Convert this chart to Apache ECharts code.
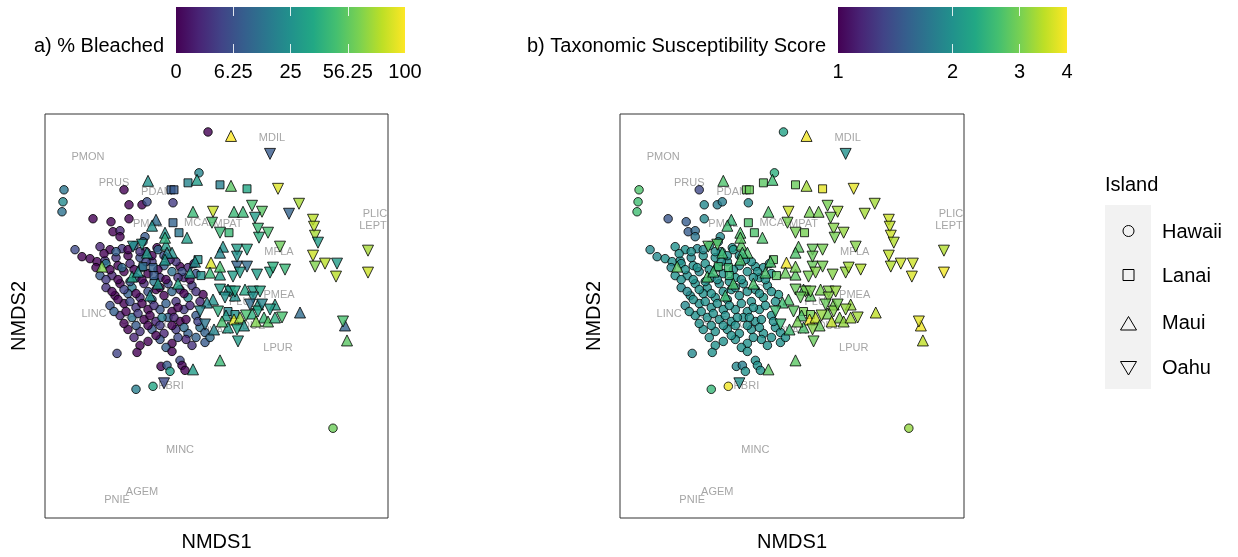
<!DOCTYPE html>
<html><head><meta charset="utf-8">
<script src="https://cdn.jsdelivr.net/npm/echarts@6.0.0/dist/echarts.min.js"></script>
<style>html,body{margin:0;padding:0;background:#fff}#c{width:1238px;height:557px}</style>
</head><body><div id="c"></div>
<script>
// Each site: [NMDS1, NMDS2, % bleached, taxonomic susceptibility score]
const hawaii = [
[-0.07,1.41,0,2.2],[-0.16,1.00,20,2.4],[-1.51,0.83,15,2.7],[-1.52,0.71,22,2.6],[-1.53,0.61,14,2.6],
[-0.91,0.83,0,1.35],[-0.86,0.68,0,1.9],[-0.73,0.68,0,1.8],[-0.68,0.71,6,1.8],[-0.42,0.70,3,1.9],
[-1.22,0.54,0,1.45],[-1.04,0.51,0,1.5],[-0.86,0.54,0,1.9],[-1.02,0.41,0,1.5],[-0.95,0.42,1,1.6],
[-0.95,0.36,0,1.7],[-0.70,0.36,8,1.9],[-0.72,0.31,10,2.0],[-0.58,0.25,0,2.0],[-0.35,0.06,0,2.0],
[-0.12,-0.22,0,2.1],[-1.40,0.23,5,1.9],[-1.33,0.16,0,1.9],[-1.25,0.14,0,2.0],[-1.18,0.11,0,2.0],
[-1.10,0.12,2,2.0],
[-1.15,0.26,1,2.0],[-1.05,0.23,0,2.0],[-0.93,0.24,3,1.9],[-0.81,0.27,8,2.0],[-0.69,0.21,1,2.0],
[-0.57,0.23,12,2.1],[-0.87,0.17,0,2.0],[-0.75,0.15,6,2.0],[-0.99,0.15,2,1.9],
[-1.19,0.05,0,1.9],[-1.09,0.09,15,2.0],[-0.97,0.07,0,2.0],[-0.85,0.09,1,2.0],[-0.73,0.05,20,2.1],
[-0.63,0.11,3,2.0],[-0.51,0.07,9,2.0],[-0.39,0.11,2,2.0],[-0.27,0.05,1,2.0],
[-1.15,-0.03,8,2.0],[-1.03,-0.03,1,2.0],[-0.91,0.01,0,1.9],[-0.79,-0.05,10,2.0],[-0.67,-0.01,0,2.0],
[-0.55,-0.05,2,2.1],[-0.43,0.01,14,2.0],[-0.31,-0.05,1,2.0],[-0.19,-0.01,7,2.0],[-0.95,-0.11,0,2.0],
[-1.09,-0.15,2,1.9],[-0.83,-0.15,18,2.0],[-0.71,-0.11,1,2.0],[-0.59,-0.17,0,2.0],[-0.47,-0.11,5,2.0],
[-0.35,-0.17,1,2.0],[-0.23,-0.13,3,2.0],[-1.00,-0.23,0,2.0],[-0.87,-0.21,9,2.0],
[-0.75,-0.25,1,2.0],[-0.63,-0.27,12,2.0],[-0.51,-0.23,0,2.0],[-0.39,-0.29,2,2.0],[-0.27,-0.25,22,2.1],
[-0.15,-0.29,1,2.0],[-1.05,-0.33,6,1.9],[-0.91,-0.31,0,2.0],[-0.79,-0.35,2,2.0],[-0.67,-0.37,0,2.0],
[-0.55,-0.37,7,2.0],[-0.43,-0.39,0,2.0],[-0.31,-0.37,3,2.0],[-0.19,-0.43,8,2.0],[-0.95,-0.43,1,2.0],
[-0.83,-0.45,14,2.0],[-0.71,-0.47,0,2.0],[-0.59,-0.49,1,2.0],[-0.47,-0.45,10,2.0],[-0.35,-0.49,0,2.0],
[-0.87,-0.57,0,2.0],[-0.75,-0.59,2,2.0],[-0.63,-0.57,8,2.0],[-0.51,-0.61,1,2.0],[-0.39,-0.57,3,2.0],
[-0.27,-0.61,9,2.0],[-0.15,-0.55,14,2.0],[-0.67,-0.69,0,2.0],[-0.55,-0.67,7,2.0],[-0.43,-0.71,0,2.0],
[-0.29,-0.67,1,2.0],[-0.19,-0.65,10,2.0],
[-1.11,0.19,0,2.0],[-0.99,0.21,9,2.0],[-0.87,0.23,0,1.9],[-0.75,0.21,2,2.0],[-0.63,0.17,0,2.0],
[-0.51,0.17,5,2.0],[-1.05,0.03,0,2.0],[-0.93,0.05,12,2.0],[-0.81,0.03,0,2.0],[-0.69,0.11,4,2.0],
[-0.57,0.03,0,2.0],[-0.45,0.13,1,2.0],[-0.33,0.01,6,2.0],[-0.21,0.09,0,2.0],[-1.09,-0.07,3,2.0],
[-0.97,-0.07,0,2.0],[-0.85,-0.09,7,2.0],[-0.73,-0.07,0,2.0],[-0.61,-0.09,16,2.0],[-0.49,-0.07,0,2.0],
[-0.37,-0.05,2,2.0],[-0.25,-0.07,0,2.0],[-1.03,-0.19,0,1.9],[-0.91,-0.17,4,2.0],[-0.79,-0.21,0,2.0],
[-0.67,-0.19,6,2.0],[-0.55,-0.15,0,2.0],[-0.43,-0.19,11,2.0],[-0.31,-0.21,0,2.0],[-0.19,-0.19,2,2.0],
[-0.97,-0.27,0,2.0],[-0.85,-0.29,5,2.0],[-0.73,-0.31,0,2.0],[-0.61,-0.33,2,2.0],[-0.49,-0.31,9,2.0],
[-0.37,-0.35,0,2.0],[-0.25,-0.33,1,2.0],[-1.01,-0.39,9,2.0],[-0.89,-0.39,0,2.0],[-0.77,-0.41,3,2.0],
[-0.65,-0.43,0,2.0],[-0.53,-0.45,18,2.0],[-0.41,-0.45,1,2.0],[-0.29,-0.47,0,2.0],[-0.17,-0.49,4,2.0],
[-0.91,-0.51,0,2.0],[-0.79,-0.53,8,2.0],[-0.67,-0.53,0,2.0],[-0.55,-0.53,3,2.0],[-0.43,-0.53,0,2.0],
[-0.31,-0.55,12,2.0],[-0.81,-0.65,1,2.0],[-0.59,-0.63,0,2.0],[-0.37,-0.65,5,2.0],[-0.23,-0.73,2,2.0],
[-0.75,-0.73,0,2.0],[-0.49,-0.75,9,2.0],
[-0.10,-0.60,10,2.0],[-0.10,-0.70,8,2.0],[-0.05,-0.65,12,2.0],
[-0.98,-0.81,4,1.9],[-0.78,-0.80,0,2.0],[-0.43,-0.79,0,2.0],[-0.54,-0.94,0,1.9],[-0.48,-0.93,8,1.8],
[-0.45,-0.99,30,2.0],[-0.35,-0.88,5,2.0],[-0.33,-0.93,0,2.0],[-0.30,-0.98,0,2.0],
[-0.79,-1.17,18,2.5],[-0.62,-1.14,35,3.9],[1.18,-1.56,60,3.2]
];
const lanai = [
[-0.44,0.83,8,2.9],[-0.41,0.83,8,2.9],[-0.27,0.90,20,2.8],[0.05,0.88,18,2.9],[0.32,0.84,35,3.8],
[-0.42,0.50,10,2.7],[0.14,0.40,45,3.0],[-0.17,0.13,25,2.8],[-0.14,-0.03,25,2.8],[-0.72,0.06,12,2.6],
[-0.62,0.05,10,2.6],[-0.61,-0.03,8,2.5],[-0.36,0.40,15,2.7],[0.13,-0.39,20,3.0],[0.20,-0.42,25,3.0]
];
const maui = [
[0.16,1.37,100,3.9],[-0.18,0.93,30,2.6],[-0.67,0.92,25,2.7],[0.16,0.87,55,3.3],[-0.59,0.53,12,2.5],
[-0.63,0.47,25,2.6],[-0.22,0.61,45,2.7],[0.19,0.61,45,3.0],[0.28,0.61,45,3.0],[-0.50,0.40,25,2.7],
[-0.49,0.28,30,2.8],[-0.43,0.20,25,2.7],[-0.48,0.20,20,2.6],[-0.68,0.20,30,2.6],[-0.28,0.35,30,2.7],
[0.08,0.26,25,2.8],[0.05,0.20,20,2.7],[-0.20,0.11,25,2.7],[-0.04,0.10,90,3.9],[-0.05,0.00,45,2.9],
[0.05,-0.02,30,2.8],[-0.25,0.00,30,2.7],[-0.02,-0.27,25,2.7],[-0.08,-0.30,20,2.6],[0.60,-0.32,30,3.2],
[0.85,-0.40,12,3.5],[1.30,-0.53,10,3.9],[1.32,-0.68,55,3.5],[-0.22,-0.97,30,2.8],[0.05,-0.88,45,2.8],
[-0.50,0.35,40,2.8],[-0.83,-0.04,35,2.7],[-0.77,0.01,25,2.6],[-0.57,-0.11,30,2.7],[-0.65,-0.23,25,2.6],
[-0.50,0.13,28,2.7],[-0.37,-0.11,35,2.7],[0.11,-0.43,30,2.7],[0.19,-0.47,90,3.9],[0.25,-0.45,70,3.5],
[0.37,-0.41,40,3.0],[0.49,-0.45,45,3.1],[0.13,-0.55,30,2.7],[0.07,-0.49,50,3.0],[-0.01,-0.57,20,2.6],
[0.29,-0.53,25,2.9],[0.53,-0.49,55,3.2],[0.60,-0.45,40,3.3],[0.41,-0.49,65,3.5],[0.43,-0.32,30,3.0],
[0.20,-0.23,25,2.8],[0.30,-0.17,35,3.0],[0.13,-0.17,20,2.7],[0.05,0.06,50,3.0],[-1.13,0.06,65,2.8]
];
const oahu = [
[0.55,1.19,8,2.0],[0.63,0.84,90,3.8],[0.84,0.69,75,3.3],[0.74,0.59,10,3.3],[-0.02,0.61,85,3.6],
[0.37,0.67,50,3.0],[0.47,0.61,55,3.3],[0.40,0.55,30,3.0],[-0.03,0.50,50,3.0],[0.05,0.40,45,3.0],
[0.43,0.44,45,3.1],[0.53,0.40,50,3.2],[0.44,0.35,40,3.0],[0.98,0.53,80,3.6],[0.99,0.46,80,3.5],
[1.00,0.37,75,3.6],[1.03,0.30,30,3.4],[0.98,0.17,85,3.5],[1.00,0.06,65,3.4],[1.10,0.09,80,3.6],
[1.22,0.09,30,3.6],[1.21,-0.04,80,3.7],[1.53,0.22,75,3.4],[1.53,0.00,85,3.9],[0.65,0.26,60,3.1],
[-0.82,0.26,25,2.8],[-0.73,0.28,28,2.8],[0.22,0.23,30,2.9],[0.32,0.23,35,3.0],[0.22,0.06,10,2.9],
[0.32,0.06,12,3.0],[0.18,-0.04,30,3.0],[0.25,0.00,30,3.1],[0.42,-0.02,30,3.1],[0.55,0.00,35,3.2],
[0.58,0.05,40,3.3],[0.70,0.03,45,3.4],[0.05,-0.17,30,2.9],[0.15,-0.19,30,3.0],[0.10,-0.25,25,2.9],
[0.20,-0.19,35,3.0],[0.38,-0.19,30,3.1],[0.45,-0.19,35,3.2],[0.38,-0.25,25,3.1],[-0.51,-1.11,5,2.0],
[0.23,-0.69,30,2.9],[1.28,-0.49,50,3.8],[0.67,-0.45,50,3.3],[0.03,-0.39,40,2.8],[0.31,-0.43,50,3.2],
[0.43,-0.39,35,3.1],[0.55,-0.37,30,3.2],[0.35,-0.32,12,2.9],[0.47,-0.32,20,3.0],[-0.10,-0.52,15,2.5],
[0.22,-0.57,35,3.1],[-0.15,-0.39,20,2.6],[0.22,0.16,25,2.9]
];
const species  = ['PMON','PRUS','PDAM','PMAL','MCAP','MPAT','MDIL','PLIC','LEPT','MFLA','PMEA','FSCU','LINC','COCE','PLOB','PVAR','PDUE','PLUT','LPUR','PBRI','MINC','AGEM','PNIE'];
const speciesX = [-1.27,-1.01,-0.58,-0.67,-0.15,0.13,0.57,1.60,1.58,0.64,0.64,-0.34,-1.21,-0.79,-0.50,0.02,0.35,0.28,0.63,-0.44,-0.35,-0.73,-0.98];
const speciesY = [1.16,0.90,0.81,0.49,0.50,0.49,1.35,0.59,0.47,0.21,-0.22,-0.16,-0.41,-0.48,-0.52,-0.59,-0.53,-0.29,-0.76,-1.14,-1.78,-2.20,-2.28];
const bleachTicks = [0, 6.25, 25, 56.25, 100];
const tssTicks = [1, 2, 3, 4];
const islands = ['Hawaii','Lanai','Maui','Oahu'];

const FONT = '"Liberation Sans", Arial, sans-serif';
const viridis = ['#440154','#482475','#414487','#355f8d','#2a788e','#21918c','#22a884','#44bf70','#7ad151','#bddf26','#fde725'];
const bleachT = v => Math.sqrt(v) / 10;            // sqrt colour scale
const tssT = v => Math.log(v) / Math.log(4);        // log colour scale
const islandData = [hawaii, lanai, maui, oahu];
const shapes = [
  {symbol:'circle', size:8.5, rot:0},
  {symbol:'rect', size:8, rot:0},
  {symbol:'triangle', size:11, rot:0},
  {symbol:'triangle', size:11, rot:180}
];
const X = {min:-1.70, max:1.73}, Y = {min:-2.46, max:1.59};
const gradient = {type:'linear', x:0, y:0, x2:1, y2:0,
  colorStops: viridis.map((c,i)=>({offset:i/(viridis.length-1), color:c}))};

const series = [];
[0,1].forEach(p => {
  series.push({type:'scatter', xAxisIndex:p, yAxisIndex:p, silent:true, z:1,
    symbolSize:1, itemStyle:{color:'rgba(0,0,0,0)'},
    data: species.map((s,i)=>({name:s, value:[speciesX[i], speciesY[i]]})),
    label:{show:true, position:'inside', formatter:'{b}', color:'#8f8f8f', fontSize:11, fontFamily:FONT}
  });
});
[0,1].forEach(p => {
  islandData.forEach((arr, k) => {
    series.push({type:'scatter', name:islands[k], xAxisIndex:p, yAxisIndex:p, silent:true, z:2,
      symbol:shapes[k].symbol, symbolSize:shapes[k].size, symbolRotate:shapes[k].rot,
      itemStyle:{borderColor:'#000', borderWidth:1},
      data: arr.map(d => [d[0], d[1], p === 0 ? bleachT(d[2]) : tssT(d[3])])
    });
  });
});

const panelAxisX = (g) => ({gridIndex:g, type:'value', min:X.min, max:X.max,
  axisLine:{show:false}, axisTick:{show:false}, axisLabel:{show:false}, splitLine:{show:false},
  name:'NMDS1', nameLocation:'middle', nameGap:14,
  nameTextStyle:{fontSize:20, color:'#000', fontFamily:FONT, verticalAlign:'top'}});
const panelAxisY = (g) => ({gridIndex:g, type:'value', min:Y.min, max:Y.max,
  axisLine:{show:false}, axisTick:{show:false}, axisLabel:{show:false}, splitLine:{show:false},
  name:'NMDS2', nameLocation:'middle', nameGap:16,
  nameTextStyle:{fontSize:20, color:'#000', fontFamily:FONT}});

const barAxis = (g, pos, vals, fmt, showLabel) => ({gridIndex:g, type:'value', position:pos, min:0, max:1,
  axisLine:{show:false}, splitLine:{show:false},
  axisTick:{show:true, inside:true, length:9, lineStyle:{color:'rgba(255,255,255,0.85)', width:1}, customValues:vals.slice(1, -1)},
  axisLabel:{show:showLabel, margin:9, fontSize:20, color:'#000', fontFamily:FONT, customValues:vals,
    showMinLabel:true, showMaxLabel:true, formatter:fmt}});
const bleachVals = bleachTicks.map(bleachT);
const tssVals = tssTicks.map(tssT);
const bleachFmt = v => { const t = bleachTicks.find(t => Math.abs(bleachT(t)-v) < 1e-6); return t === undefined ? '' : String(t); };
const tssFmt = v => { const t = tssTicks.find(t => Math.abs(tssT(t)-v) < 1e-6); return t === undefined ? '' : String(t); };

const option = {
  animation:false,
  textStyle:{fontFamily:FONT},
  grid:[
    {left:45, top:114, width:343, height:405, show:true, borderColor:'#333', borderWidth:1, backgroundColor:'#fff'},
    {left:620, top:114, width:344, height:405, show:true, borderColor:'#333', borderWidth:1, backgroundColor:'#fff'},
    {left:176, top:7, width:229, height:46, show:true, borderWidth:0, backgroundColor:gradient},
    {left:838, top:7, width:229, height:46, show:true, borderWidth:0, backgroundColor:gradient}
  ],
  xAxis:[
    panelAxisX(0), panelAxisX(1),
    barAxis(2,'bottom',bleachVals,bleachFmt,true), barAxis(2,'top',bleachVals,bleachFmt,false),
    barAxis(3,'bottom',tssVals,tssFmt,true), barAxis(3,'top',tssVals,tssFmt,false)
  ],
  yAxis:[
    panelAxisY(0), panelAxisY(1),
    {gridIndex:2, show:false, min:0, max:1},
    {gridIndex:3, show:false, min:0, max:1}
  ],
  visualMap:[
    {type:'continuous', show:false, seriesIndex:[2,3,4,5], dimension:2, min:0, max:1, inRange:{color:viridis}},
    {type:'continuous', show:false, seriesIndex:[6,7,8,9], dimension:2, min:0, max:1, inRange:{color:viridis}}
  ],
  graphic:[
    {type:'text', x:164, y:46, style:{text:'a) % Bleached', fill:'#000', font:'20px '+FONT, textAlign:'right', textVerticalAlign:'middle'}},
    {type:'text', x:826, y:46, style:{text:'b) Taxonomic Susceptibility Score', fill:'#000', font:'20px '+FONT, textAlign:'right', textVerticalAlign:'middle'}},
    {type:'text', x:1105, y:185, style:{text:'Island', fill:'#000', font:'20px '+FONT, textAlign:'left', textVerticalAlign:'middle'}},
    {type:'rect', shape:{x:1105, y:205, width:46, height:184}, style:{fill:'#f2f2f2'}},
    {type:'circle', shape:{cx:1128.5, cy:231, r:5.5}, style:{fill:'none', stroke:'#000', lineWidth:1}},
    {type:'rect', shape:{x:1123, y:269.5, width:11, height:11}, style:{fill:'none', stroke:'#000', lineWidth:1}},
    {type:'polygon', shape:{points:[[1128.5,316.5],[1120.5,330],[1136.5,330]]}, style:{fill:'none', stroke:'#000', lineWidth:1}},
    {type:'polygon', shape:{points:[[1120.5,361.5],[1136.5,361.5],[1128.5,375]]}, style:{fill:'none', stroke:'#000', lineWidth:1}},
    {type:'text', x:1162, y:232, style:{text:islands[0], fill:'#000', font:'20px '+FONT, textAlign:'left', textVerticalAlign:'middle'}},
    {type:'text', x:1162, y:276, style:{text:islands[1], fill:'#000', font:'20px '+FONT, textAlign:'left', textVerticalAlign:'middle'}},
    {type:'text', x:1162, y:323, style:{text:islands[2], fill:'#000', font:'20px '+FONT, textAlign:'left', textVerticalAlign:'middle'}},
    {type:'text', x:1162, y:368, style:{text:islands[3], fill:'#000', font:'20px '+FONT, textAlign:'left', textVerticalAlign:'middle'}}
  ],
  series: series
};
const chart = echarts.init(document.getElementById('c'), null, {renderer:'canvas'});
chart.setOption(option);
</script>
</body></html>
